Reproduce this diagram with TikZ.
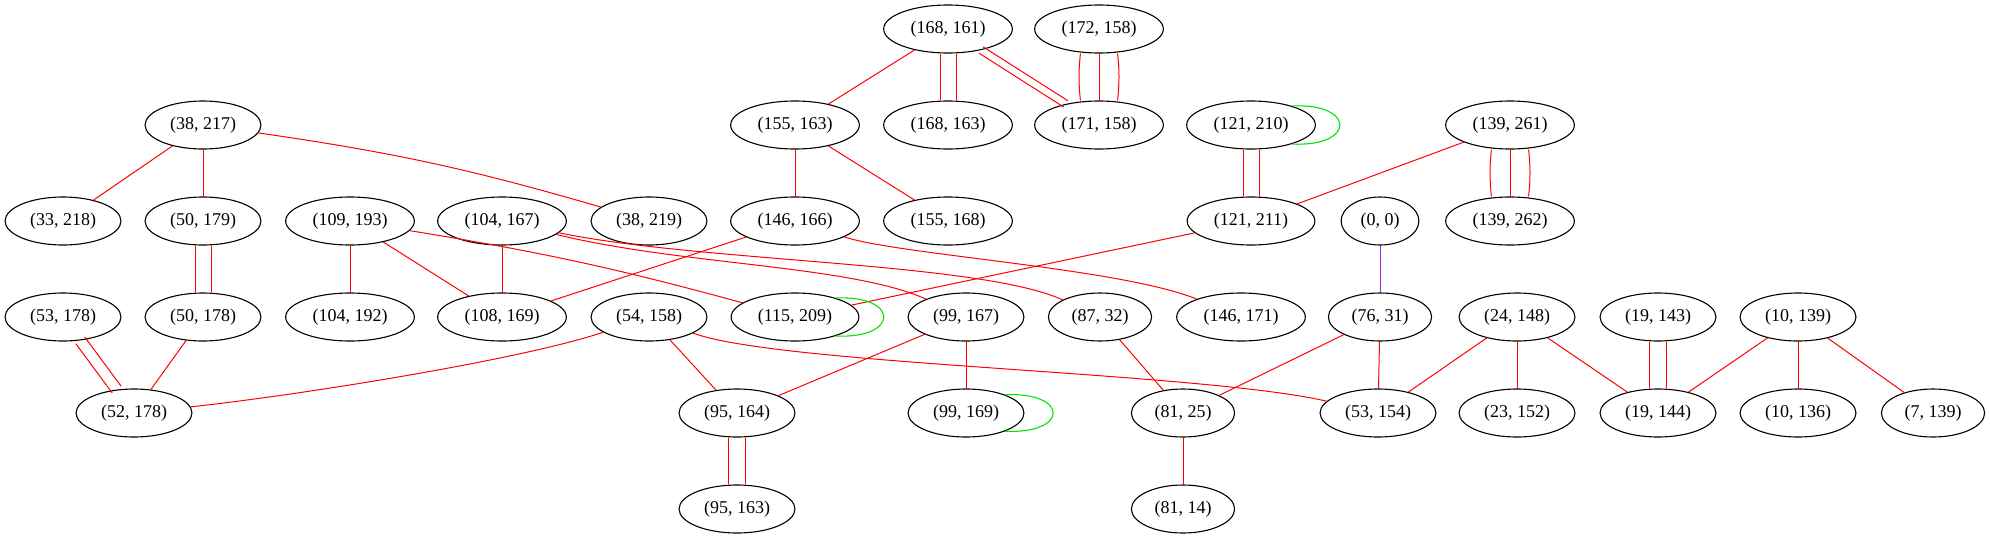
\documentclass[tikz,border=0pt]{standalone}
\usepackage{fontspec}
\setmainfont{Liberation Serif}
\usetikzlibrary{shapes.geometric}
\definecolor{edred}{RGB}{255,0,0}
\definecolor{lpgreen}{RGB}{0,230,0}
\definecolor{edpurple}{RGB}{160,32,240}
\tikzset{
  vtx/.style={draw=black, ellipse, line width=1.1pt, minimum height=48pt,
              inner xsep=8pt, inner ysep=3pt, font=\fontsize{18}{20}\selectfont},
  ed/.style={draw=edred, line width=1pt},
  lp/.style={draw=lpgreen, line width=1.1pt},
  pe/.style={draw=edpurple, line width=0.9pt},
}

\begin{document}
\begin{tikzpicture}[x=1pt,y=-1pt]
\useasboundingbox (0,0) rectangle (1990,539);
\node[vtx] (n168-161) at (948,29) {(168, 161)};
\node[vtx] (n172-158) at (1099,29) {(172, 158)};
\node[vtx] (n38-217) at (203,125) {(38, 217)};
\node[vtx] (n155-163) at (795,125) {(155, 163)};
\node[vtx] (n168-163) at (948,125) {(168, 163)};
\node[vtx] (n171-158) at (1099,125) {(171, 158)};
\node[vtx] (n121-210) at (1251,125) {(121, 210)};
\node[vtx] (n139-261) at (1510,125) {(139, 261)};
\node[vtx] (n33-218) at (63,221) {(33, 218)};
\node[vtx] (n50-179) at (203,221) {(50, 179)};
\node[vtx] (n109-193) at (350,221) {(109, 193)};
\node[vtx] (n104-167) at (502,221) {(104, 167)};
\node[vtx] (n38-219) at (649,221) {(38, 219)};
\node[vtx] (n146-166) at (795,221) {(146, 166)};
\node[vtx] (n155-168) at (948,221) {(155, 168)};
\node[vtx] (n121-211) at (1251,221) {(121, 211)};
\node[vtx] (n0-0) at (1380,221) {(0, 0)};
\node[vtx] (n139-262) at (1510,221) {(139, 262)};
\node[vtx] (n53-178) at (63,317) {(53, 178)};
\node[vtx] (n50-178) at (203,317) {(50, 178)};
\node[vtx] (n104-192) at (350,317) {(104, 192)};
\node[vtx] (n108-169) at (502,317) {(108, 169)};
\node[vtx] (n54-158) at (649,317) {(54, 158)};
\node[vtx] (n115-209) at (795,317) {(115, 209)};
\node[vtx] (n99-167) at (966,317) {(99, 167)};
\node[vtx] (n87-32) at (1100,317) {(87, 32)};
\node[vtx] (n146-171) at (1241,317) {(146, 171)};
\node[vtx] (n76-31) at (1380,317) {(76, 31)};
\node[vtx] (n24-148) at (1517,317) {(24, 148)};
\node[vtx] (n19-143) at (1658,317) {(19, 143)};
\node[vtx] (n10-139) at (1798,317) {(10, 139)};
\node[vtx] (n52-178) at (134,413) {(52, 178)};
\node[vtx] (n95-164) at (737,413) {(95, 164)};
\node[vtx] (n99-169) at (966,413) {(99, 169)};
\node[vtx] (n81-25) at (1183,413) {(81, 25)};
\node[vtx] (n53-154) at (1378,413) {(53, 154)};
\node[vtx] (n23-152) at (1517,413) {(23, 152)};
\node[vtx] (n19-144) at (1658,413) {(19, 144)};
\node[vtx] (n10-136) at (1798,413) {(10, 136)};
\node[vtx] (n7-139) at (1933,413) {(7, 139)};
\node[vtx] (n95-163) at (737,509) {(95, 163)};
\node[vtx] (n81-14) at (1183,509) {(81, 14)};

\draw[ed] (n168-161) -- (n155-163);
\draw[ed,transform canvas={xshift=-8pt}] (n168-161) -- (n168-163);
\draw[ed,transform canvas={xshift=8pt}] (n168-161) -- (n168-163);
\draw[ed,transform canvas={shift={(2,-3.2)}}] (n168-161) -- (n171-158);
\draw[ed,transform canvas={shift={(-2,3.2)}}] (n168-161) -- (n171-158);
\draw[ed,transform canvas={xshift=-16pt}] (n172-158) to[bend right=6] (n171-158);
\draw[ed] (n172-158) -- (n171-158);
\draw[ed,transform canvas={xshift=16pt}] (n172-158) to[bend left=6] (n171-158);
\draw[ed] (n38-217) -- (n33-218);
\draw[ed] (n38-217) -- (n50-179);
\draw[ed] (n38-217) to[bend left=4] (n38-219);
\draw[ed] (n155-163) -- (n146-166);
\draw[ed] (n155-163) -- (n155-168);
\draw[lp] (n121-210.25) .. controls +(64,-3) and +(64,3) .. (n121-210.335);
\draw[ed,transform canvas={xshift=-8pt}] (n121-210) -- (n121-211);
\draw[ed,transform canvas={xshift=8pt}] (n121-210) -- (n121-211);
\draw[ed] (n139-261) -- (n121-211);
\draw[ed,transform canvas={xshift=-16pt}] (n139-261) to[bend right=6] (n139-262);
\draw[ed] (n139-261) -- (n139-262);
\draw[ed,transform canvas={xshift=16pt}] (n139-261) to[bend left=6] (n139-262);
\draw[ed,transform canvas={xshift=-8pt}] (n50-179) -- (n50-178);
\draw[ed,transform canvas={xshift=8pt}] (n50-179) -- (n50-178);
\draw[ed] (n109-193) -- (n104-192);
\draw[ed] (n109-193) -- (n108-169);
\draw[ed] (n109-193) to[bend left=3] (n115-209);
\draw[ed] (n104-167) -- (n108-169);
\draw[ed] (n104-167) .. controls (680,265) and (850,265) .. (n99-167);
\draw[ed] (n104-167) .. controls (700,262) and (980,262) .. (n87-32);
\draw[ed] (n146-166) -- (n108-169);
\draw[ed] (n146-166) .. controls (900,255) and (1120,268) .. (n146-171);
\draw[ed] (n121-211) -- (n115-209);
\draw[lp] (n115-209.25) .. controls +(64,-3) and +(64,3) .. (n115-209.335);
\draw[pe] (n0-0) -- (n76-31);
\draw[ed,transform canvas={shift={(4.5,-3.3)}}] (n53-178) -- (n52-178);
\draw[ed,transform canvas={shift={(-4.5,3.3)}}] (n53-178) -- (n52-178);
\draw[ed] (n50-178) -- (n52-178);
\draw[ed] (n54-158) .. controls (520,360) and (300,395) .. (n52-178);
\draw[ed] (n54-158) -- (n95-164);
\draw[ed] (n54-158) .. controls (780,365) and (1200,372) .. (n53-154);
\draw[ed] (n99-167) -- (n95-164);
\draw[ed] (n99-167) -- (n99-169);
\draw[lp] (n99-169.25) .. controls +(64,-3) and +(64,3) .. (n99-169.335);
\draw[ed] (n87-32) -- (n81-25);
\draw[ed] (n76-31) -- (n81-25);
\draw[ed] (n76-31) -- (n53-154);
\draw[ed] (n24-148) -- (n53-154);
\draw[ed] (n24-148) -- (n23-152);
\draw[ed] (n24-148) -- (n19-144);
\draw[ed,transform canvas={xshift=-8.5pt}] (n19-143) -- (n19-144);
\draw[ed,transform canvas={xshift=8.5pt}] (n19-143) -- (n19-144);
\draw[ed] (n10-139) -- (n19-144);
\draw[ed] (n10-139) -- (n10-136);
\draw[ed] (n10-139) -- (n7-139);
\draw[ed,transform canvas={xshift=-8.5pt}] (n95-164) -- (n95-163);
\draw[ed,transform canvas={xshift=8.5pt}] (n95-164) -- (n95-163);
\draw[ed] (n81-25) -- (n81-14);
\end{tikzpicture}
\end{document}
